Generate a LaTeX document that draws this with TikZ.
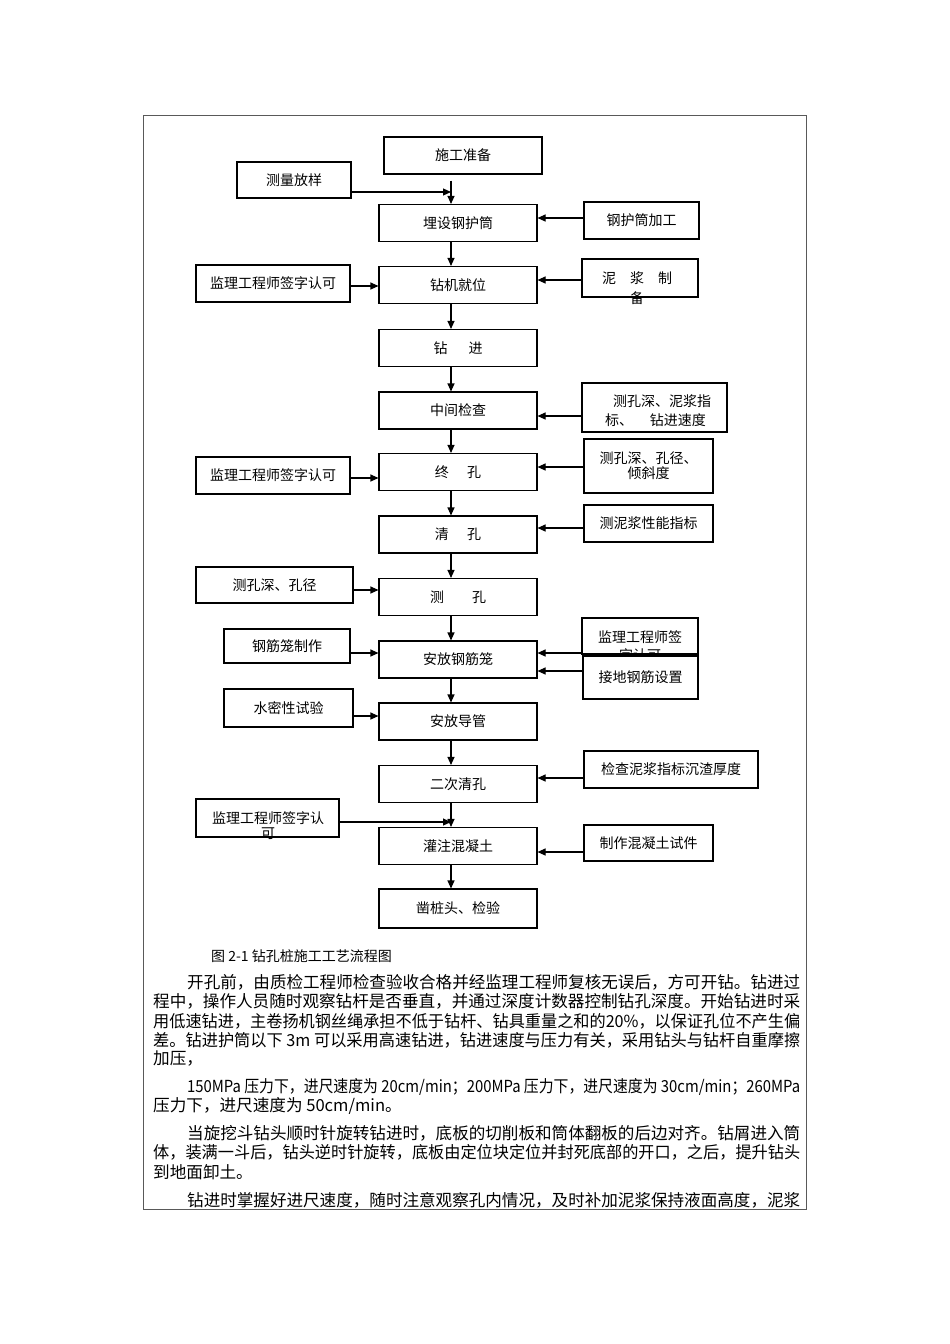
\documentclass[tikz,border=0pt]{standalone}
\usepackage{graphicx}
\usepackage{fontspec}
\setmainfont{Noto Sans CJK SC}
\usetikzlibrary{arrows.meta}
\newsavebox\jbox
\newcommand\jline[2]{\sbox\jbox{#2}\pgfmathsetmacro\jsc{#1/\the\wd\jbox}\scalebox{\jsc}[1]{\usebox\jbox}}
\newcommand\chartfont{\fontsize{14}{18}\selectfont}
\newcommand\bodyfont{\fontsize{16.6}{20}\selectfont}
\begin{document}
\begin{tikzpicture}[x=1pt,y=-1pt,
  box/.style={draw, line width=1.1pt, inner sep=0pt, font=\chartfont, align=center, fill=white},
  mainbox/.style={box, minimum width=158pt, minimum height=37pt},
  lbl/.style={inner sep=0pt, font=\chartfont, align=center},
  arr/.style={line width=1.1pt, -{Triangle[length=8pt,width=7pt]}},
  body/.style={anchor=west, inner sep=0pt, font=\bodyfont},
  frame/.style={line width=1pt, draw=black!65}]
\fill[white] (0,0) rectangle (950,1344);
\useasboundingbox (0,0) rectangle (950,1344);
\draw[frame] (143,115) rectangle (806,1209);
\coordinate (vx) at (451,0);
% main column
\node[box, minimum width=158pt, minimum height=37pt] (prep) at (463,155.5) {施工准备};
\node[mainbox] (A1) at (458,223) {埋设钢护筒};
\node[mainbox] (A2) at (458,285) {钻机就位};
\node[mainbox] (A3) at (458,348) {钻\hspace{1.5em}进};
\node[mainbox] (A4) at (458,410.5) {中间检查};
\node[mainbox] (A5) at (458,472) {终\hspace{1.3em}孔};
\node[mainbox] (A6) at (458,534.5) {清\hspace{1.3em}孔};
\node[mainbox] (A7) at (458,597) {测\hspace{2em}孔};
\node[mainbox] (A8) at (458,659.5) {安放钢筋笼};
\node[mainbox] (A9) at (458,721.5) {安放导管};
\node[mainbox] (A10) at (458,784) {二次清孔};
\node[mainbox] (A11) at (458,846) {灌注混凝土};
\node[mainbox, minimum height=39pt] (A12) at (458,908.5) {凿桩头、检验};
% left column
\node[box, minimum width=114pt, minimum height=36pt] (S1) at (294,180) {测量放样};
\node[box, minimum width=154pt, minimum height=37pt] (L1) at (273,283.5) {监理工程师签字认可};
\node[box, minimum width=154pt, minimum height=37pt] (L2) at (273,475.5) {监理工程师签字认可};
\node[box, minimum width=157pt, minimum height=36pt] (L3) at (274.5,585) {测孔深、孔径};
\node[box, minimum width=126pt, minimum height=34pt] (L4) at (287,646) {钢筋笼制作};
\node[box, minimum width=129pt, minimum height=38pt] (L5) at (288.5,708) {水密性试验};
\node[box, minimum width=143pt, minimum height=38pt] (L6) at (267.5,818) {};
\node[lbl, font=\fontsize{14}{15}\selectfont] (L6t) at (268,825.5) {监理工程师签字认\\可};
% right column
\node[box, minimum width=115pt, minimum height=37pt] (R1) at (641.5,220.5) {钢护筒加工};
\node[box, minimum width=116pt, minimum height=38pt] (R2) at (640,278) {};
\node[lbl, font=\fontsize{14}{20}\selectfont] (R2t) at (637,288) {泥\hspace{1em}浆\hspace{1em}制\\备};
\node[box, minimum width=145pt, minimum height=49pt] (R3) at (654.5,407.5) {};
\node[lbl, anchor=west, align=left, font=\fontsize{14}{19}\selectfont] (R3t) at (605,410.5) {\hspace{8pt}测孔深、泥浆指\\标、\hspace{1.2em}钻进速度};
\node[box, minimum width=129pt, minimum height=54pt, font=\fontsize{14}{15}\selectfont] (R4) at (648.5,466) {测孔深、孔径、\\倾斜度};
\node[box, minimum width=129pt, minimum height=37pt] (R5) at (648.5,523.5) {测泥浆性能指标};
\node[box, minimum width=116pt, minimum height=36pt] (R6) at (640,636) {};
\node[lbl, font=\fontsize{14}{18}\selectfont] (R6t) at (640,646) {监理工程师签\\字认可};
\node[box, minimum width=115pt, minimum height=43pt] (R7) at (640.5,677.5) {接地钢筋设置};
\node[box, minimum width=174pt, minimum height=37pt] (R8) at (671,769.5) {检查泥浆指标沉渣厚度};
\node[box, minimum width=129pt, minimum height=36pt] (R9) at (648.5,843) {制作混凝土试件};
% vertical connectors
\draw[arr] ([yshift=-6pt]prep.south -| vx) -- (A1.north -| vx);
\draw[arr] (A1.south -| vx) -- (A2.north -| vx);
\draw[arr] (A2.south -| vx) -- (A3.north -| vx);
\draw[arr] (A3.south -| vx) -- (A4.north -| vx);
\draw[arr] (A4.south -| vx) -- (A5.north -| vx);
\draw[arr] (A5.south -| vx) -- (A6.north -| vx);
\draw[arr] (A6.south -| vx) -- (A7.north -| vx);
\draw[arr] (A7.south -| vx) -- (A8.north -| vx);
\draw[arr] (A8.south -| vx) -- (A9.north -| vx);
\draw[arr] (A9.south -| vx) -- (A10.north -| vx);
\draw[arr] (A10.south -| vx) -- (A11.north -| vx);
\draw[arr] (A11.south -| vx) -- (A12.north -| vx);
% left inputs
\draw[arr] (S1.east |- 0,192) -- (vx |- 0,192);
\draw[arr] (L1.east |- 0,286) -- (A2.west |- 0,286);
\draw[arr] (L2.east |- 0,478) -- (A5.west |- 0,478);
\draw[arr] (L3.east |- 0,590) -- (A7.west |- 0,590);
\draw[arr] (L4.east |- 0,653) -- (A8.west |- 0,653);
\draw[arr] (L5.east |- 0,716) -- (A9.west |- 0,716);
\draw[arr] (L6.east |- 0,822) -- (vx |- 0,822);
% right inputs
\draw[arr] (R1.west |- 0,218) -- (A1.east |- 0,218);
\draw[arr] (R2.west |- 0,280) -- (A2.east |- 0,280);
\draw[arr] (R3.west |- 0,416) -- (A4.east |- 0,416);
\draw[arr] (R4.west |- 0,467) -- (A5.east |- 0,467);
\draw[arr] (R5.west |- 0,528) -- (A6.east |- 0,528);
\draw[arr] (R6.west |- 0,653) -- (A8.east |- 0,653);
\draw[arr] (R7.west |- 0,671) -- (A8.east |- 0,671);
\draw[arr] (R8.west |- 0,778) -- (A10.east |- 0,778);
\draw[arr] (R9.west |- 0,852) -- (A11.east |- 0,852);
% caption
\node[anchor=west, inner sep=0pt, font=\chartfont] (cap) at (211,956) {图 2-1 钻孔桩施工工艺流程图};
% body text
\node[body] (p1a) at (187,982) {\jline{613pt}{开孔前，由质检工程师检查验收合格并经监理工程师复核无误后，方可开钻。钻进过}};
\node[body] (p1b) at (153,1001.5) {\jline{647pt}{程中，操作人员随时观察钻杆是否垂直，并通过深度计数器控制钻孔深度。开始钻进时采}};
\node[body] (p1c) at (153,1021) {\jline{647pt}{用低速钻进，主卷扬机钢丝绳承担不低于钻杆、钻具重量之和的20\%，以保证孔位不产生偏}};
\node[body] (p1d) at (153,1040) {\jline{647pt}{差。钻进护筒以下 3m 可以采用高速钻进，钻进速度与压力有关，采用钻头与钻杆自重摩擦}};
\node[body] (p1e) at (153,1059) {加压，};
\node[body] (p2a) at (187,1087) {\jline{613pt}{150MPa 压力下，进尺速度为 20cm/min；200MPa 压力下，进尺速度为 30cm/min；260MPa}};
\node[body] (p2b) at (153,1106) {压力下，进尺速度为 50cm/min。};
\node[body] (p3a) at (187,1133) {\jline{613pt}{当旋挖斗钻头顺时针旋转钻进时，底板的切削板和筒体翻板的后边对齐。钻屑进入筒}};
\node[body] (p3b) at (153,1152) {\jline{647pt}{体，装满一斗后，钻头逆时针旋转，底板由定位块定位并封死底部的开口，之后，提升钻头}};
\node[body] (p3c) at (153,1172) {到地面卸土。};
\node[body] (p4a) at (187,1200) {\jline{613pt}{钻进时掌握好进尺速度，随时注意观察孔内情况，及时补加泥浆保持液面高度，泥浆}};
\end{tikzpicture}
\end{document}
